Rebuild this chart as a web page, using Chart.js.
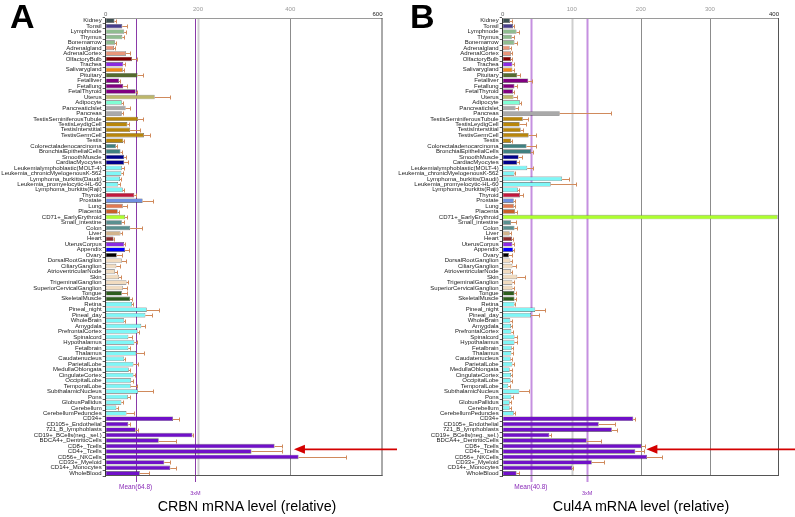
<!DOCTYPE html>
<html>
<head>
<meta charset="utf-8">
<script src="https://cdn.jsdelivr.net/npm/chart.js@4.4.1/dist/chart.umd.min.js"></script>
<style>
  body { margin: 0; background: #fff; font-family: Arial, "Liberation Sans", sans-serif; }
  #wrap { position: relative; width: 795px; height: 517px; overflow: hidden; }
  canvas { position: absolute; top: 0; }
  .letter { position: absolute; top: -3px; font-weight: bold; font-size: 34px; color: #000; }
  .xtitle { position: absolute; top: 498px; font-size: 14.3px; color: #000; white-space: nowrap; transform: translateX(-50%); }
</style>
</head>
<body>
<div id="wrap">
  <canvas id="chartA" width="397" height="517" style="left:0"></canvas>
  <canvas id="chartB" width="398" height="517" style="left:397px"></canvas>
  <div class="letter" style="left:10px">A</div>
  <div class="letter" style="left:410px">B</div>
  <div class="xtitle" style="left:247px">CRBN mRNA level (relative)</div>
  <div class="xtitle" style="left:641px">Cul4A mRNA level (relative)</div>
</div>
<script>
const categories = [
  'Kidney', 'Tonsil', 'Lymphnode', 'Thymus', 'Bonemarrow', 'Adrenalgland', 'AdrenalCortex',
  'OlfactoryBulb', 'Trachea', 'Salivarygland', 'Pituitary', 'Fetalliver', 'Fetallung',
  'FetalThyroid', 'Uterus', 'Adipocyte', 'PancreaticIslet', 'Pancreas',
  'TestisSeminiferousTubule', 'TestisLeydigCell', 'TestisInterstitial', 'TestisGermCell',
  'Testis', 'Colorectaladenocarcinoma', 'BronchialEpithelialCells', 'SmoothMuscle',
  'CardiacMyocytes', 'Leukemialymphoblastic(MOLT-4)', 'Leukemia_chronicMyelogenousK-562',
  'Lymphoma_burkitts(Daudi)', 'Leukemia_promyelocytic-HL-60', 'Lymphoma_burkitts(Raji)',
  'Thyroid', 'Prostate', 'Lung', 'Placenta', 'CD71+_EarlyErythroid', 'Small_intestine',
  'Colon', 'Liver', 'Heart', 'UterusCorpus', 'Appendix', 'Ovary', 'DorsalRootGanglion',
  'CiliaryGanglion', 'AtrioventricularNode', 'Skin', 'TrigeminalGanglion',
  'SuperiorCervicalGanglion', 'Tongue', 'SkeletalMuscle', 'Retina', 'Pineal_night',
  'Pineal_day', 'WholeBrain', 'Amygdala', 'PrefrontalCortex', 'Spinalcord', 'Hypothalamus',
  'Fetalbrain', 'Thalamus', 'Caudatenucleus', 'ParietalLobe', 'MedullaOblongata',
  'CingulateCortex', 'OccipitalLobe', 'TemporalLobe', 'SubthalamicNucleus', 'Pons',
  'GlobusPallidus', 'Cerebellum', 'CerebellumPeduncles', 'CD34+', 'CD105+_Endothelial',
  '721_B_lymphoblasts', 'CD19+_BCells(neg._sel.)', 'BDCA4+_DentriticCells', 'CD8+_Tcells',
  'CD4+_Tcells', 'CD56+_NKCells', 'CD33+_Myeloid', 'CD14+_Monocytes', 'WholeBlood'
];

const crbnValues = [
  19, 36, 40, 36, 20, 18, 44, 57, 38, 37, 69, 29, 38, 65, 106, 35, 43, 35,
  70, 47, 53, 83, 38, 22, 32, 40, 40, 35, 34, 31, 27, 37,
  62, 80, 37, 26, 42, 35, 53, 32, 17, 40, 42, 24, 35, 23, 20, 29, 45, 37, 35, 53,
  57, 89, 86, 40, 77, 69, 49, 62, 49, 66, 40, 60, 50, 60, 55, 54, 70, 48, 34, 23, 45,
  146, 49, 65, 188, 115, 366, 316, 418, 127, 140, 74
];
const crbnErrors = [
  4, 11, 4, 4, 3, 2, 9, 11, 3, 2, 12, 2, 9, 3, 33, 3, 9, 3,
  10, 4, 21, 14, 2, 3, 3, 4, 9, 4, 3, 3, 3, 3,
  3, 22, 10, 3, 4, 4, 25, 3, 2, 2, 9, 11, 9, 8, 4, 4, 4, 9, 11, 3,
  3, 26, 14, 2, 9, 3, 9, 6, 3, 17, 2, 9, 3, 4, 4, 13, 32, 4, 3, 3, 16,
  12, 3, 4, 2, 37, 16, 66, 102, 13, 12, 19
];

const cul4aValues = [
  10.5, 15, 20, 13, 17, 10, 12, 12, 14, 14, 21, 37, 17, 15, 15.5, 25, 18.5, 82.5,
  29, 24.5, 26, 37.5, 12, 34.5, 41, 23, 21, 35.5, 17, 86, 69.5, 22,
  25, 16, 16, 18, 398, 12, 17, 10, 13.5, 14, 15, 9, 11, 14, 12, 21, 14, 14, 17, 17,
  17, 47, 41, 11, 12, 12.5, 17, 17, 13, 12.5, 11.5, 14, 10, 12, 11.5, 8, 24, 12.5, 10, 10, 16,
  189, 139, 158, 67.5, 121.5, 201, 192, 209, 129, 100.5, 20
];
const cul4aErrors = [
  3, 2, 4, 3, 3, 2, 2, 2, 2, 3, 4, 5, 3, 2, 5, 2, 3, 74,
  7, 9, 3, 10, 2, 13, 3, 5, 2, 9, 1, 10, 37, 1,
  4, 2, 2, 3, 0, 7, 3, 2, 2, 2, 2, 5, 3, 5, 2, 11, 3, 3, 2, 2,
  1, 14, 11, 2, 1, 2, 3, 3, 2, 2, 2, 2, 3, 2, 2, 2, 14, 2, 2, 2, 2,
  2, 24, 8, 3, 21, 5, 13, 21, 18, 1, 3
];

const barColors = [
  '#3e5151', '#483d8b', '#8fbc8f', '#8fbc8f', '#8fbc8f', '#e9967a', '#e9967a',
  '#800000', '#8a2be2', '#f08a1a', '#556b2f', '#800080', '#800080', '#800080',
  '#bdb76b', '#7fffd4', '#a9a9a9', '#a9a9a9',
  '#b8860b', '#b8860b', '#b8860b', '#b8860b', '#b8860b', '#408080', '#408080',
  '#00008b', '#00008b', '#7ff7f7', '#7ff7f7', '#7ff7f7', '#7ff7f7', '#7ff7f7',
  '#c0183c', '#6f8fe0', '#e07850', '#c8602a', '#adff2f', '#5a9090', '#5a9090',
  '#d2b48c', '#8b2a2a', '#8a2be2', '#0000ff', '#000000',
  '#f2dcc0', '#f2dcc0', '#f2dcc0', '#f2dcc0', '#f2dcc0', '#f2dcc0', '#2e5e1e', '#2e5e1e',
  '#7ff7f7', '#7ff7f7', '#7ff7f7', '#7ff7f7', '#7ff7f7', '#7ff7f7', '#7ff7f7', '#7ff7f7',
  '#7ff7f7', '#7ff7f7', '#7ff7f7', '#7ff7f7', '#7ff7f7', '#7ff7f7', '#7ff7f7', '#7ff7f7',
  '#7ff7f7', '#7ff7f7', '#7ff7f7', '#7ff7f7', '#7ff7f7',
  '#7010c8', '#7010c8', '#7010c8', '#7010c8', '#7010c8', '#7010c8', '#7010c8', '#7010c8',
  '#7010c8', '#7010c8', '#7010c8'
];

const crbnMean = 64.8;
const cul4aMean = 40.8;
const crbnTicks = [0, 200, 400, 600];
const cul4aTicks = [0, 100, 200, 300, 400];

// arrow tip value and the row (between CD8+ and CD4+) it points at
const crbnArrowTip = 408;
const cul4aArrowTip = 208;
const arrowRow = 78.6;

const overlay = {
  id: 'overlay',
  beforeDatasetsDraw(chart, args, o) {
    const { ctx, chartArea: a, scales: { x } } = chart;
    ctx.save();
    // grid lines at inner ticks
    o.ticks.forEach((t, i) => {
      if (i === 0 || i === o.ticks.length - 1) return;
      const px = Math.round(x.getPixelForValue(t)) + 0.5;
      ctx.strokeStyle = i === 1 ? '#cfcfcf' : '#8c8c8c';
      ctx.lineWidth = i === 1 ? 2 : 1;
      ctx.beginPath(); ctx.moveTo(px, a.top); ctx.lineTo(px, a.bottom); ctx.stroke();
    });
    // mean and 3x mean lines
    ctx.strokeStyle = o.meanColor;
    ctx.lineWidth = o.meanWidth;
    [o.mean, o.mean * 3].forEach(v => {
      const px = Math.round(x.getPixelForValue(v)) + 0.5;
      ctx.beginPath(); ctx.moveTo(px, a.top); ctx.lineTo(px, a.bottom + 6); ctx.stroke();
    });
    ctx.restore();
  },
  afterDatasetsDraw(chart, args, o) {
    const { ctx, chartArea: a, scales: { x, y } } = chart;
    ctx.save();
    // error bars
    ctx.strokeStyle = '#d08a5c';
    ctx.lineWidth = 1;
    o.values.forEach((v, i) => {
      const e = o.errors[i];
      if (!e) return;
      const yc = Math.round(y.getPixelForValue(i)) + 0.5;
      const x0 = x.getPixelForValue(v), x1 = Math.round(x.getPixelForValue(v + e)) + 0.5;
      ctx.beginPath();
      ctx.moveTo(x0, yc); ctx.lineTo(x1, yc);
      ctx.moveTo(x1, yc - 2); ctx.lineTo(x1, yc + 2);
      ctx.stroke();
    });
    // frame: top, right, bottom
    ctx.strokeStyle = '#9a9a9a';
    ctx.beginPath(); ctx.moveTo(a.left, a.top + 0.5); ctx.lineTo(a.right, a.top + 0.5); ctx.stroke();
    ctx.strokeStyle = '#555';
    ctx.beginPath();
    ctx.moveTo(a.right - 0.5, a.top); ctx.lineTo(a.right - 0.5, a.bottom);
    ctx.moveTo(a.left, a.bottom - 0.5); ctx.lineTo(a.right, a.bottom - 0.5);
    ctx.stroke();
    // top tick labels
    ctx.font = '6px Arial';
    ctx.textBaseline = 'middle';
    o.ticks.forEach((t, i) => {
      const px = x.getPixelForValue(t);
      if (i === o.ticks.length - 1) {
        ctx.fillStyle = '#222'; ctx.textAlign = 'right';
        ctx.fillText(String(t), px, a.top - 4);
      } else if (i === 0) {
        ctx.fillStyle = '#666'; ctx.textAlign = 'center';
        ctx.fillText(String(t), px, a.top - 4);
      } else {
        ctx.fillStyle = '#999'; ctx.textAlign = 'center';
        ctx.fillText(String(t), px, a.top - 9);
      }
    });
    // mean labels
    ctx.fillStyle = o.meanText;
    ctx.textAlign = 'center';
    ctx.font = '6.5px Arial';
    ctx.fillText('Mean(' + o.mean + ')', x.getPixelForValue(o.mean), a.bottom + 11);
    ctx.font = '5.5px Arial';
    ctx.fillText('3xM', x.getPixelForValue(o.mean * 3), a.bottom + 17);
    // red arrow
    const ay = y.getPixelForValue(o.arrowRow);
    const tip = x.getPixelForValue(o.arrowTip);
    ctx.strokeStyle = '#d40000';
    ctx.fillStyle = '#d40000';
    ctx.lineWidth = 1.8;
    ctx.beginPath(); ctx.moveTo(chart.width, ay); ctx.lineTo(tip + 8, ay); ctx.stroke();
    ctx.beginPath();
    ctx.moveTo(tip, ay); ctx.lineTo(tip + 11, ay - 4.5); ctx.lineTo(tip + 11, ay + 4.5);
    ctx.closePath(); ctx.fill();
    ctx.restore();
  }
};

function makeChart(id, values, errors, mean, ticks, arrowTip, rightPad, meanColor, meanWidth) {
  return new Chart(document.getElementById(id), {
    type: 'bar',
    data: {
      labels: categories,
      datasets: [{
        data: values,
        backgroundColor: barColors,
        borderColor: 'rgba(40,40,40,0.75)',
        borderWidth: 0.6,
        borderSkipped: false,
        barPercentage: 0.82,
        categoryPercentage: 1
      }]
    },
    options: {
      indexAxis: 'y',
      responsive: false,
      animation: false,
      layout: { padding: { left: 0, right: rightPad, top: 18, bottom: 41 } },
      plugins: {
        legend: { display: false },
        tooltip: { enabled: false },
        overlay: {
          values, errors, mean, ticks, arrowTip, arrowRow,
          meanColor, meanWidth, meanText: '#8a2bb8'
        }
      },
      scales: {
        x: {
          position: 'top',
          min: ticks[0],
          max: ticks[ticks.length - 1],
          grid: { display: false },
          border: { display: false },
          ticks: { display: false },
          afterFit: s => { s.height = 0; }
        },
        y: {
          ticks: {
            autoSkip: false,
            color: '#222',
            padding: 1,
            font: { family: 'Arial', size: 6 }
          },
          grid: { drawOnChartArea: false, tickLength: 3, color: '#333', lineWidth: 0.8 },
          border: { color: '#333', width: 1 },
          afterFit: s => { s.width = 105.7; }
        }
      }
    },
    plugins: [overlay]
  });
}

makeChart('chartA', crbnValues, crbnErrors, crbnMean, crbnTicks, crbnArrowTip, 14.5, '#8a3aa8', 1);
makeChart('chartB', cul4aValues, cul4aErrors, cul4aMean, cul4aTicks, cul4aArrowTip, 16, '#c590e0', 2);
</script>
</body>
</html>
